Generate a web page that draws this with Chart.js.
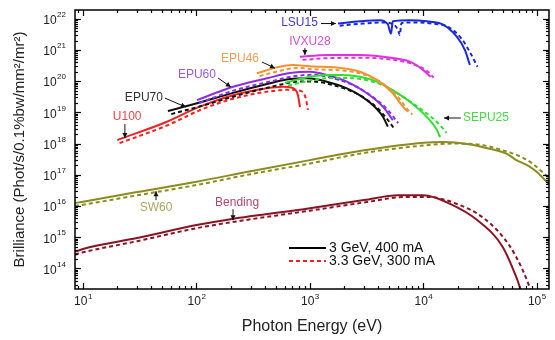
<!DOCTYPE html>
<html>
<head>
<meta charset="utf-8">
<script src="https://cdn.jsdelivr.net/npm/chart.js@4.4.1/dist/chart.umd.min.js"></script>
<style>
  html, body { margin: 0; padding: 0; background: #fff; }
  #wrap { width: 555px; height: 340px; }
</style>
</head>
<body>
<div id="wrap"><canvas id="brillianceChart" width="555" height="340"></canvas></div>
<script>
// photon energy (eV) / brilliance, solid = 3 GeV 400 mA, "d" = 3.3 GeV 300 mA
const lsu15E = [1770, 2760, 4140, 4860, 5180, 5380, 7600, 10700, 14900, 19700, 23200, 25700];
const lsu15B = [7.0e21, 8.3e21, 9.0e21, 6.6e21, 3.3e21, 8.3e21, 9.0e21, 8.3e21, 6.5e21, 2.65e21, 1.0e21, 3.3e20];
const lsu15dE = [1830, 2950, 4500, 5450, 5950, 6200, 6400, 8400, 11800, 16500, 21700, 25700, 30000];
const lsu15dB = [6.0e21, 7.0e21, 7.6e21, 6.6e21, 4.5e21, 3.0e21, 7.2e21, 7.6e21, 7.0e21, 5.5e21, 2.3e21, 8.5e20, 2.9e20];

const ivxu28E = [817, 1410, 2760, 5380, 7600, 9900, 11600];
const ivxu28B = [6.0e20, 6.9e20, 6.9e20, 5.5e20, 4.2e20, 2.3e20, 1.38e20];
const ivxu28dE = [860, 1550, 3050, 5900, 8300, 10800, 12300];
const ivxu28dB = [4.8e20, 5.5e20, 5.6e20, 4.6e20, 3.4e20, 2.1e20, 1.3e20];

const epu46E = [341, 512, 708, 1000, 1950, 2760, 3890, 5380, 6600, 7300];
const epu46B = [1.78e20, 2.76e20, 3.3e20, 3.0e20, 2.6e20, 2.0e20, 1.1e20, 4.1e19, 1.52e19, 1.05e19];
const epu46dE = [360, 560, 780, 1100, 2150, 3050, 4300, 5900, 7300, 8000];
const epu46dB = [1.45e20, 2.2e20, 2.65e20, 2.4e20, 2.1e20, 1.6e20, 8.8e19, 3.3e19, 1.2e19, 8.5e18];

const epu60E = [101, 210, 418, 667, 1000, 1410, 2120, 3180, 4400, 5380];
const epu60B = [2.46e19, 6.6e19, 1.23e20, 1.82e20, 2.0e20, 1.58e20, 9.6e19, 4.1e19, 1.52e19, 5.6e18];
const epu60dE = [106, 225, 450, 730, 1100, 1550, 2350, 3500, 4850, 6000];
const epu60dB = [2.0e19, 5.3e19, 9.8e19, 1.45e20, 1.6e20, 1.26e20, 7.7e19, 3.3e19, 1.2e19, 4.5e18];

const epu70E = [56, 101, 210, 418, 667, 940, 1410, 2120, 2760, 3590, 4400, 4860];
const epu70B = [1.1e19, 1.95e19, 4.2e19, 8.1e19, 1.17e20, 1.23e20, 9.6e19, 5.9e19, 3.5e19, 1.7e19, 7.2e18, 3.5e18];
const epu70dE = [60, 108, 225, 450, 730, 1030, 1550, 2350, 3050, 3950, 4850, 5600];
const epu70dB = [8.8e18, 1.56e19, 3.4e19, 6.5e19, 9.4e19, 9.8e19, 7.7e19, 4.7e19, 2.8e19, 1.35e19, 5.8e18, 2.8e18];

const u100E = [20, 55, 107, 210, 418, 578, 708, 784, 817];
const u100B = [1.29e18, 5.0e18, 1.52e19, 3.55e19, 5.9e19, 6.6e19, 6.0e19, 3.55e19, 1.48e19];
const u100dE = [21, 57, 110, 220, 440, 660, 840, 920, 960];
const u100dB = [1.03e18, 4.0e18, 1.22e19, 2.85e19, 4.7e19, 5.3e19, 4.8e19, 2.8e19, 1.2e19];

const sepu25E = [603, 1000, 1410, 1950, 2760, 3890, 5380, 7600, 10700, 13200, 14000];
const sepu25B = [8.9e19, 1.38e20, 1.58e20, 1.58e20, 1.38e20, 9.6e19, 5.1e19, 2.2e19, 7.2e18, 2.7e18, 1.6e18];
const sepu25dE = [640, 1080, 1550, 2150, 3050, 4300, 5900, 8400, 11800, 14600, 16000];
const sepu25dB = [7.2e19, 1.1e20, 1.27e20, 1.27e20, 1.1e20, 7.7e19, 4.1e19, 1.75e19, 7.0e18, 3.3e18, 2.2e18];

const sw60E = [8.5, 10, 30, 100, 300, 1000, 3000, 10000, 15000, 25000, 40000, 55000, 66000, 85000, 100000, 128000];
const sw60B = [1.24e16, 1.38e16, 2.8e16, 6.0e16, 1.3e17, 2.95e17, 6.1e17, 1.07e18, 1.13e18, 9.6e17, 6.6e17, 4.6e17, 2.95e17, 1.9e17, 1.23e17, 5e16];
const sw60dE = [8.5, 10, 30, 100, 300, 1000, 3000, 10000, 18000, 30000, 50000, 70000, 90000, 110000, 128000];
const sw60dB = [1.0e16, 1.1e16, 2.2e16, 4.7e16, 1.05e17, 2.3e17, 5.0e17, 8.7e17, 1.0e18, 9.4e17, 6.1e17, 4.0e17, 2.4e17, 1.3e17, 7.8e16];

const bendE = [8.5, 10, 30, 100, 200, 1000, 3000, 6000, 10000, 17000, 30000, 50000, 65000, 75000];
const bendB = [3.4e14, 4.2e14, 9.4e14, 2.45e15, 3.8e15, 8.5e15, 1.55e16, 2.2e16, 2.2e16, 1.2e16, 3.5e15, 4.9e14, 6e13, 1.4e13];
const bendDE = [8.5, 10, 30, 100, 200, 1000, 3000, 7000, 11000, 19000, 34000, 57000, 75000, 92000];
const bendDB = [2.8e14, 3.3e14, 7.5e14, 1.95e15, 3.0e15, 7.1e15, 1.3e16, 1.95e16, 1.95e16, 1.23e16, 4.1e15, 5.6e14, 8.9e13, 1.4e13];

const xTickPowers = [1, 2, 3, 4, 5];
const yTickPowers = [14, 15, 16, 17, 18, 19, 20, 21, 22];

const FONT = "'Liberation Sans', Arial, sans-serif";

function series(label, E, B, color, dashed) {
  return {
    label: label,
    data: E.map((e, i) => ({ x: e, y: B[i] })),
    borderColor: color,
    borderWidth: 2,
    borderDash: dashed ? [4, 3] : [],
    pointRadius: 0,
    fill: false,
    cubicInterpolationMode: 'monotone'
  };
}

const curves = [
  ['LSU15', lsu15E, lsu15B, lsu15dE, lsu15dB, '#1a28d8'],
  ['IVXU28', ivxu28E, ivxu28B, ivxu28dE, ivxu28dB, '#e030e0'],
  ['EPU46', epu46E, epu46B, epu46dE, epu46dB, '#f59030'],
  ['SEPU25', sepu25E, sepu25B, sepu25dE, sepu25dB, '#2ee02e'],
  ['EPU60', epu60E, epu60B, epu60dE, epu60dB, '#8a2ee6'],
  ['EPU70', epu70E, epu70B, epu70dE, epu70dB, '#111111'],
  ['U100', u100E, u100B, u100dE, u100dB, '#ee2222'],
  ['SW60', sw60E, sw60B, sw60dE, sw60dB, '#8c8c1e'],
  ['Bending', bendE, bendB, bendDE, bendDB, '#8a1424']
];

const datasets = [];
curves.forEach(c => {
  datasets.push(series(c[0], c[1], c[2], c[5], false));
  datasets.push(series(c[0] + ' 3.3 GeV', c[3], c[4], c[5], true));
});

// curve names with their arrows, in data coordinates
const curveNotes = [
  { text: 'LSU15', color: '#3c3cd8', at: [1175, 7.2e21], align: 'right', from: [1250, 7.0e21], to: [1695, 7.0e21] },
  { text: 'IVXU28', color: '#d94fd9', at: [1000, 1.79e21], align: 'center', from: [903, 1.15e21], to: [903, 6.9e20] },
  { text: 'EPU46', color: '#f0a050', at: [242, 5.1e20], align: 'center', from: [378, 4.1e20], to: [492, 2.6e20] },
  { text: 'EPU60', color: '#9a5ae8', at: [101, 1.57e20], align: 'center', from: [155, 1.26e20], to: [201, 6.5e19] },
  { text: 'EPU70', color: '#333333', at: [34.4, 2.87e19], align: 'center', from: [52.7, 2.87e19], to: [80.7, 1.48e19] },
  { text: 'U100', color: '#e84848', at: [24.5, 7.1e18], align: 'center', from: [23.4, 4.2e18], to: [23.4, 1.5e18] },
  { text: 'SEPU25', color: '#44dd44', at: [35600, 6.6e18], align: 'center', from: [21400, 6.6e18], to: [15200, 6.6e18] },
  { text: 'SW60', color: '#a8a860', at: [44, 8.6e15], align: 'center', from: [44, 1.55e16], to: [44, 3.0e16] },
  { text: 'Bending', color: '#b04a6a', at: [228, 1.24e16], align: 'center', from: [210, 7.95e15], to: [210, 3.5e15] }
];

const legendRows = [
  { text: '3 GeV, 400 mA', color: '#000000', dash: [] },
  { text: '3.3 GeV, 300 mA', color: '#ee2222', dash: [4, 3] }
];

const decor = {
  id: 'decor',
  afterDatasetsDraw(chart) {
    const { ctx, scales: { x, y } } = chart;
    ctx.save();
    ctx.font = '12px ' + FONT;
    ctx.textBaseline = 'middle';
    curveNotes.forEach(n => {
      ctx.fillStyle = n.color;
      ctx.textAlign = n.align;
      ctx.fillText(n.text, x.getPixelForValue(n.at[0]), y.getPixelForValue(n.at[1]));
      const x0 = x.getPixelForValue(n.from[0]), y0 = y.getPixelForValue(n.from[1]);
      const x1 = x.getPixelForValue(n.to[0]), y1 = y.getPixelForValue(n.to[1]);
      const ang = Math.atan2(y1 - y0, x1 - x0);
      ctx.strokeStyle = '#111';
      ctx.fillStyle = '#111';
      ctx.lineWidth = 1;
      ctx.beginPath();
      ctx.moveTo(x0, y0);
      ctx.lineTo(x1, y1);
      ctx.stroke();
      ctx.beginPath();
      ctx.moveTo(x1, y1);
      ctx.lineTo(x1 - 5 * Math.cos(ang) + 2.5 * Math.sin(ang), y1 - 5 * Math.sin(ang) - 2.5 * Math.cos(ang));
      ctx.lineTo(x1 - 5 * Math.cos(ang) - 2.5 * Math.sin(ang), y1 - 5 * Math.sin(ang) + 2.5 * Math.cos(ang));
      ctx.closePath();
      ctx.fill();
    });

    // legend
    ctx.font = '14px ' + FONT;
    ctx.textAlign = 'left';
    legendRows.forEach((r, i) => {
      const ly = 248 + i * 13;
      ctx.strokeStyle = r.color;
      ctx.lineWidth = 2;
      ctx.setLineDash(r.dash);
      ctx.beginPath();
      ctx.moveTo(289, ly);
      ctx.lineTo(326, ly);
      ctx.stroke();
      ctx.setLineDash([]);
      ctx.fillStyle = '#111';
      ctx.fillText(r.text, 329, ly);
    });
    ctx.restore();
  },
  afterDraw(chart) {
    const { ctx, chartArea: a, scales: { x, y } } = chart;
    ctx.save();
    ctx.strokeStyle = '#000';
    ctx.lineWidth = 1.2;
    const seg = (x0, y0, x1, y1) => { ctx.beginPath(); ctx.moveTo(x0, y0); ctx.lineTo(x1, y1); ctx.stroke(); };
    for (let e = 0; e <= 5; e++) {
      for (let k = 1; k <= 9; k++) {
        const v = k * Math.pow(10, e);
        if (v < x.min || v > x.max) continue;
        const p = Math.round(x.getPixelForValue(v)) + 0.5;
        const len = k === 1 ? 6 : 3;
        seg(p, a.bottom, p, a.bottom - len);
        seg(p, a.top, p, a.top + len);
      }
    }
    for (let e = 13; e <= 22; e++) {
      for (let k = 1; k <= 9; k++) {
        const v = k * Math.pow(10, e);
        if (v < y.min || v > y.max) continue;
        const p = Math.round(y.getPixelForValue(v)) + 0.5;
        const len = k === 1 ? 6 : 3;
        seg(a.left, p, a.left + len, p);
        seg(a.right, p, a.right - len, p);
      }
    }
    ctx.lineWidth = 1.5;
    ctx.strokeRect(a.left, a.top, a.right - a.left, a.bottom - a.top);

    // tick labels 10^n
    ctx.fillStyle = '#222';
    ctx.textBaseline = 'middle';
    ctx.textAlign = 'left';
    xTickPowers.forEach(n => {
      const p = x.getPixelForValue(Math.pow(10, n));
      ctx.font = '12px ' + FONT;
      const w1 = ctx.measureText('10').width;
      ctx.font = '8px ' + FONT;
      const w2 = ctx.measureText(String(n)).width;
      const left = p - (w1 + w2) / 2;
      ctx.font = '12px ' + FONT;
      ctx.fillText('10', left, 302);
      ctx.font = '8px ' + FONT;
      ctx.fillText(String(n), left + w1 + 0.5, 297);
    });
    yTickPowers.forEach(n => {
      const p = y.getPixelForValue(Math.pow(10, n));
      ctx.font = '8px ' + FONT;
      const w2 = ctx.measureText(String(n)).width;
      ctx.textAlign = 'left';
      ctx.fillText(String(n), 66 - w2, p - 4);
      ctx.font = '12px ' + FONT;
      ctx.textAlign = 'right';
      ctx.fillText('10', 66 - w2 - 0.5, p + 2);
    });
    ctx.restore();
  }
};

new Chart(document.getElementById('brillianceChart').getContext('2d'), {
  type: 'line',
  data: { datasets: datasets },
  options: {
    responsive: false,
    animation: false,
    layout: { padding: { top: 10, right: 6, left: 0, bottom: 4 } },
    plugins: { legend: { display: false }, tooltip: { enabled: false } },
    scales: {
      x: {
        type: 'logarithmic',
        min: 8.5,
        max: 1.28e5,
        grid: { display: false },
        border: { display: false },
        ticks: { display: false },
        title: { display: true, text: 'Photon Energy (eV)', color: '#222', font: { family: FONT, size: 16 }, padding: 0 },
        afterFit(s) { s.height = 47; }
      },
      y: {
        type: 'logarithmic',
        min: 2.2e13,
        max: 1.9e22,
        grid: { display: false },
        border: { display: false },
        ticks: { display: false },
        title: { display: true, text: 'Brilliance (Phot/s/0.1%bw/mm²/mr²)', color: '#222', font: { family: FONT, size: 15 }, padding: { top: 11, bottom: 0 } },
        afterFit(s) { s.width = 75; }
      }
    }
  },
  plugins: [decor]
});
</script>
</body>
</html>
